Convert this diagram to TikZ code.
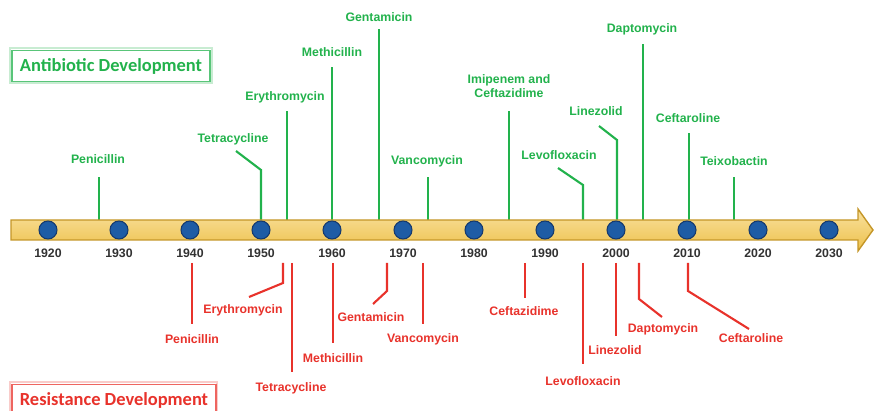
\documentclass[tikz,border=0pt]{standalone}
\usepackage{fontspec}
\setmainfont{Liberation Sans}
\newfontfamily\titlefont{Carlito}
\usetikzlibrary{positioning}

\definecolor{abgreen}{RGB}{34,178,76}
\definecolor{resred}{RGB}{232,50,43}
\definecolor{bargold}{RGB}{244,200,80}
\definecolor{baredge}{RGB}{196,150,40}
\definecolor{dotblue}{RGB}{30,92,165}
\definecolor{dotedge}{RGB}{22,58,110}
\definecolor{yeargray}{RGB}{50,50,50}

\begin{document}
\begin{tikzpicture}[x=0.02cm,y=-0.02cm,
  drug/.style={font=\fontsize{7}{8.4}\selectfont\bfseries, inner sep=0pt, align=center},
  stem/.style={line width=1.2pt},
  dot/.style={circle, fill=dotblue, draw=dotedge, line width=0.6pt, minimum size=0.36cm, inner sep=0pt},
  yearlbl/.style={font=\fontsize{7}{8.4}\selectfont\bfseries, text=yeargray, inner sep=0pt},
  headbox/.style={draw=#1!75, line width=0.9pt, fill=white, inner sep=0pt,
    minimum width=3.96cm, minimum height=0.62cm,
    font=\titlefont\fontsize{10.5}{12}\selectfont\bfseries, text=#1}]

\useasboundingbox (0,0) rectangle (874,411);
\clip (0,0) rectangle (874,411);

% Bar geometry
% bar body: y = 220 to 240, arrow head from x = 858 to 873
\def\barTop{220}
\def\barBot{240}
\def\redTop{263}

% Header boxes (faint halo round each)
\draw[abgreen!25, line width=0.8pt] (10,48) rectangle (212,83);
\draw[resred!25, line width=0.8pt] (10,382) rectangle (217,420);
\node[headbox=abgreen] (abHead) at (111,66) {Antibiotic Development};
\node[headbox=resred, minimum width=4.08cm] (resHead) at (114,400) {Resistance Development};

% Antibiotic development (green, above the bar)
\foreach \x/\yt/\lx/\ly/\nm/\txt in {
    99/177/98/159/Pen/Penicillin,
    287/111/285/97/Ery/Erythromycin,
    332/67/332/52/Met/Methicillin,
    379/29/379/17/Gen/Gentamicin,
    428/177/427/161/Van/Vancomycin,
    509/111/509/86/Imi/{Imipenem and\\Ceftazidime},
    643/44/642/29/Dap/Daptomycin,
    689/133/688/118/Cef/Ceftaroline,
    734/177/734/161/Tei/Teixobactin} {
  \node[drug, text=abgreen] (ab\nm) at (\lx,\ly) {\txt};
  \coordinate (abBase\nm) at (\x,\barTop);
  \coordinate (abEnd\nm) at (\x,\yt);
  \draw[stem, abgreen] (abBase\nm) -- (abEnd\nm);
}

% bent green stems
\node[drug, text=abgreen] (abTet) at (233,139) {Tetracycline};
\node[drug, text=abgreen] (abLev) at (559,155) {Levofloxacin};
\node[drug, text=abgreen] (abLin) at (596,111) {Linezolid};
\coordinate (abBaseTet) at (261,\barTop);
\coordinate (abKneeTet) at (261,170);
\coordinate (abEndTet) at (236,151);
\coordinate (abBaseLev) at (583,\barTop);
\coordinate (abKneeLev) at (583,185);
\coordinate (abEndLev) at (558,168);
\coordinate (abBaseLin) at (617,\barTop);
\coordinate (abKneeLin) at (617,140);
\coordinate (abEndLin) at (599,126);
\draw[stem, abgreen] (abBaseTet) -- (abKneeTet) -- (abEndTet);
\draw[stem, abgreen] (abBaseLev) -- (abKneeLev) -- (abEndLev);
\draw[stem, abgreen] (abBaseLin) -- (abKneeLin) -- (abEndLin);

% Resistance development (red, below the year labels)
\foreach \x/\yb/\lx/\ly/\nm/\txt in {
    192/324/192/339/Pen/Penicillin,
    292/372/291/388/Tet/Tetracycline,
    333/343/333/358/Met/Methicillin,
    423/324/423/339/Van/Vancomycin,
    525/298/524/311/Cez/Ceftazidime,
    583/364/583/381/Lev/Levofloxacin,
    616/336/615/350/Lin/Linezolid} {
  \node[drug, text=resred] (res\nm) at (\lx,\ly) {\txt};
  \coordinate (resBase\nm) at (\x,\redTop);
  \coordinate (resEnd\nm) at (\x,\yb);
  \draw[stem, resred] (resBase\nm) -- (resEnd\nm);
}

% bent red stems
\foreach \x/\yk/\ex/\ey/\lx/\ly/\nm/\txt in {
    283/283/249/297/243/310/Ery/Erythromycin,
    387/291/373/304/371/317/Gen/Gentamicin,
    639/299/662/317/663/329/Dap/Daptomycin,
    688/291/749/329/751/338/Cef/Ceftaroline} {
  \node[drug, text=resred] (res\nm) at (\lx,\ly) {\txt};
  \coordinate (resBase\nm) at (\x,\redTop);
  \coordinate (resKnee\nm) at (\x,\yk);
  \coordinate (resEnd\nm) at (\ex,\ey);
  \draw[stem, resred] (resBase\nm) -- (resKnee\nm) -- (resEnd\nm);
}

% Timeline bar with arrow head
\draw[line width=0.8pt, draw=baredge, top color=bargold!55!white, bottom color=bargold!85!baredge]
  (11,\barTop) -- (858,\barTop) -- (858,209) -- (873,230) -- (858,251)
  -- (858,\barBot) -- (11,\barBot) -- cycle;

% Decade dots and year labels
\foreach \yr [count=\i from 0] in {1920,1930,...,2030} {
  \node[dot] (d\yr) at ({48+71.0*\i},230) {};
  \node[yearlbl] (y\yr) at ({48+71.0*\i},253) {\yr};
}

\end{tikzpicture}
\end{document}
